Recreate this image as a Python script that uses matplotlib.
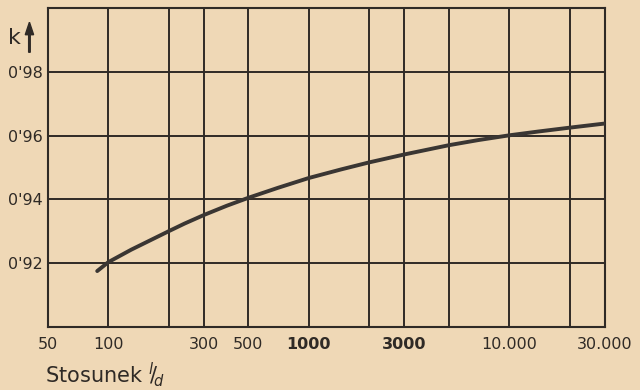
import matplotlib
matplotlib.use("Agg")
import matplotlib.pyplot as plt
from matplotlib.patches import FancyArrow
from matplotlib.ticker import FixedLocator, NullLocator

# -----------------------------
# DATA
# -----------------------------
ratio_ld = [88, 100, 130, 200, 240, 300, 390, 500, 700, 1000, 1450, 2000,
            3000, 5000, 7000, 10000, 14000, 20000, 30000]
k_values = [0.9175, 0.9203, 0.9242, 0.9300, 0.9324, 0.9351, 0.9380, 0.9405,
            0.9436, 0.9467, 0.9494, 0.9516, 0.9541, 0.9570, 0.9586, 0.9601,
            0.9613, 0.9625, 0.9638]

x_grid = [100, 200, 300, 500, 1000, 2000, 3000, 5000, 10000, 20000]
x_tick_pos = [50, 100, 300, 500, 1000, 3000, 10000, 30000]
x_tick_text = ["50", "100", "300", "500", "1000", "3000", "10.000", "30.000"]
y_grid = [0.92, 0.94, 0.96, 0.98]
y_tick_text = ["0'92", "0'94", "0'96", "0'98"]

paper = "#efd8b6"
ink = "#2f2a26"

fig = plt.figure(figsize=(6.4, 3.9), dpi=100, facecolor=paper)
ax = fig.add_axes([0.075, 0.162, 0.870, 0.817])
ax.set_facecolor(paper)

ax.set_xscale("log")
ax.set_xlim(50, 30000)
ax.set_ylim(0.90, 1.00)

# grid
for gx in x_grid:
    ax.axvline(gx, color=ink, lw=1.4, zorder=1)
for gy in y_grid:
    ax.axhline(gy, color=ink, lw=1.4, zorder=1)
for s in ax.spines.values():
    s.set_color(ink)
    s.set_linewidth(1.5)

# the curve
ax.plot(ratio_ld, k_values, color="#3a3633", lw=2.8,
        solid_capstyle="round", solid_joinstyle="round", zorder=3)

# ticks
ax.xaxis.set_major_locator(FixedLocator(x_tick_pos))
ax.xaxis.set_minor_locator(NullLocator())
ax.set_xticklabels(x_tick_text)
ax.set_yticks(y_grid)
ax.set_yticklabels(y_tick_text)
ax.tick_params(axis="both", length=0, labelsize=11.5, colors=ink)
ax.tick_params(axis="x", pad=7)
ax.tick_params(axis="y", pad=4)
for lab in ax.get_xticklabels():
    if lab.get_text() in ("1000", "3000"):
        lab.set_fontweight("bold")

# axis captions
fig.text(0.012, 0.902, "k", fontsize=16, color=ink, va="center")
fig.patches.append(FancyArrow(
    0.046, 0.866, 0, 0.045, width=0.0025, head_width=0.013, head_length=0.032,
    color=ink, transform=fig.transFigure, figure=fig))
fig.text(0.07, 0.04, "Stosunek ${}^{l}\\!/\\!_{d}$", fontsize=15, color=ink, va="center")

fig.savefig("out.png", dpi=100, facecolor=paper)
